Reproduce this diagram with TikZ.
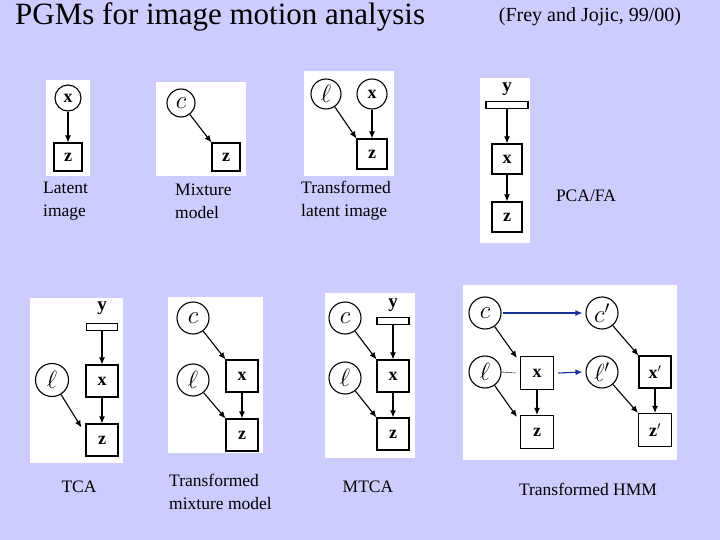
\documentclass[tikz,border=0pt]{standalone}
\usepackage{fontspec}
\setmainfont{Liberation Serif}
\usetikzlibrary{arrows.meta}
\definecolor{bg}{RGB}{204,204,255}
\definecolor{arr}{RGB}{20,50,150}
\begin{document}
\begin{tikzpicture}[x=1pt,y=-1pt,
  panel/.style={fill=white,draw=none},
  cnode/.style={circle,draw,line width=1.1pt,minimum size=#1,inner sep=0pt,font=\fontsize{24}{26}\selectfont},
  cnode/.default=30,
  bnode/.style={rectangle,draw,line width=1.1pt,minimum size=#1,inner sep=0pt,font=\fontsize{18}{20}\selectfont},
  bnode/.default=30,
  bar/.style={rectangle,draw,line width=1.1pt,minimum width=#1,minimum height=7,inner sep=0pt},
  ylab/.style={font=\fontsize{19}{20}\selectfont,inner sep=0pt},
  lab/.style={font=\fontsize{17.5}{23}\selectfont,align=left,anchor=west,inner sep=0pt},
  ar/.style={-{Latex[length=7pt,width=6pt]},line width=1.1pt},
  bar2/.style={-{Latex[length=7pt,width=6pt]},line width=1.1pt,arr}]
\fill[bg] (0,0) rectangle (720,540);
\useasboundingbox (0,0) rectangle (720,540);
\node[font=\fontsize{31}{34}\selectfont,anchor=west,inner sep=0pt] (title) at (15,17) {PGMs for image motion analysis};
\node[font=\fontsize{20}{22}\selectfont,inner sep=0pt] (ref) at (590,17) {(Frey and Jojic, 99/00)};
% panels
\fill[panel] (46,80) rectangle (90,176);
\fill[panel] (156,82) rectangle (246,176);
\fill[panel] (304,71) rectangle (394,176);
\fill[panel] (480,78) rectangle (530,243);
\fill[panel] (30,298) rectangle (123,463);
\fill[panel] (168,297) rectangle (263,453);
\fill[panel] (325,293) rectangle (415,458);
\fill[panel] (463,285) rectangle (677,460);
% 1 latent image
\node[cnode=26,font=\fontsize{18}{20}\selectfont] (x1) at (68,98) {$\mathbf{x}$};
\node[bnode=28] (z1) at (68,157) {$\mathbf{z}$};
\draw[ar] (x1) -- (z1);
% 2 mixture
\node[cnode=28] (c2) at (181,103) {$c$};
\node[bnode=28] (z2) at (226,157) {$\mathbf{z}$};
\draw[ar] (c2) -- (z2.north west);
% 3 transformed latent
\node[cnode=30] (l3) at (326,94) {$\ell$};
\node[cnode=30,font=\fontsize{18}{20}\selectfont] (x3) at (372,94) {$\mathbf{x}$};
\node[bnode=30] (z3) at (372,154) {$\mathbf{z}$};
\draw[ar] (x3) -- (z3);
\draw[ar] (l3) -- (z3.north west);
% 4 PCA/FA
\node[ylab] (y4) at (507,89) {$\mathbf{y}$};
\node[bar=42] (b4) at (507,105) {};
\node[bnode=30] (x4) at (507,159) {$\mathbf{x}$};
\node[bnode=30] (z4) at (507,217) {$\mathbf{z}$};
\draw[ar] (b4) -- (x4);
\draw[ar] (x4) -- (z4);
% 5 TCA
\node[ylab] (y5) at (102,308) {$\mathbf{y}$};
\node[bar=31] (b5) at (102,327) {};
\node[cnode=33] (l5) at (52,380) {$\ell$};
\node[bnode=32] (x5) at (102,381) {$\mathbf{x}$};
\node[bnode=32] (z5) at (102,440) {$\mathbf{z}$};
\draw[ar] (b5) -- (x5);
\draw[ar] (x5) -- (z5);
\draw[ar] (l5) -- ([xshift=-4pt,yshift=-4pt]z5.north west);
% 6 transformed mixture
\node[cnode=32] (c6) at (193,318) {$c$};
\node[cnode=32] (l6) at (193,380) {$\ell$};
\node[bnode=32] (x6) at (242,376) {$\mathbf{x}$};
\node[bnode=32] (z6) at (242,435) {$\mathbf{z}$};
\draw[ar] (c6) -- (x6.north west);
\draw[ar] (l6) -- (z6.north west);
\draw[ar] (x6) -- (z6);
% 7 MTCA
\node[cnode=32] (c7) at (345,318) {$c$};
\node[ylab] (y7) at (393,305) {$\mathbf{y}$};
\node[bar=32] (b7) at (393,321) {};
\node[cnode=32] (l7) at (345,378) {$\ell$};
\node[bnode=32] (x7) at (393,376) {$\mathbf{x}$};
\node[bnode=32] (z7) at (393,434) {$\mathbf{z}$};
\draw[ar] (b7) -- (x7);
\draw[ar] (c7) -- (x7.north west);
\draw[ar] (l7) -- (z7.north west);
\draw[ar] (x7) -- (z7);
% 8 transformed HMM
\node[cnode=32] (c8) at (485,313) {$c$};
\node[cnode=32] (cp8) at (602,313) {$c'$};
\node[cnode=32] (l8) at (485,372) {$\ell$};
\node[bnode=33] (x8) at (537,373) {$\mathbf{x}$};
\node[bnode=33] (z8) at (537,432) {$\mathbf{z}$};
\node[cnode=32] (lp8) at (602,372) {$\ell'$};
\node[bnode=32] (xp8) at (655,372) {$\mathbf{x}'$};
\node[bnode=33] (zp8) at (655,430) {$\mathbf{z}'$};
\draw[ar] (c8) -- ([xshift=-3pt,yshift=-2pt]x8.north west);
\draw[ar] (l8) -- ([xshift=-3pt,yshift=-2pt]z8.north west);
\draw[thin] (l8.east) -- ([xshift=-4pt]x8.west);
\draw[ar] (x8) -- (z8);
\draw[ar] (cp8) -- (xp8.north west);
\draw[ar] (lp8) -- (zp8.north west);
\draw[ar] (xp8) -- (zp8);
\draw[bar2] ([xshift=1pt]c8.east) -- ([xshift=-3pt]cp8.west);
\draw[bar2] ([xshift=4pt]x8.east) -- ([xshift=-3pt]lp8.west);
% labels
\node[lab] (t1) at (43,201) {Latent\\image};
\node[lab] (t2) at (175,201) {Mixture\\model};
\node[lab] (t3) at (301,201) {Transformed\\latent image};
\node[lab,anchor=center] (t4) at (586,196) {PCA/FA};
\node[lab,anchor=center] (t5) at (79,487) {TCA};
\node[lab] (t6) at (169,492) {Transformed\\mixture model};
\node[lab,anchor=center] (t7) at (368,487) {MTCA};
\node[lab,anchor=center] (t8) at (588,489) {Transformed HMM};
\end{tikzpicture}
\end{document}
